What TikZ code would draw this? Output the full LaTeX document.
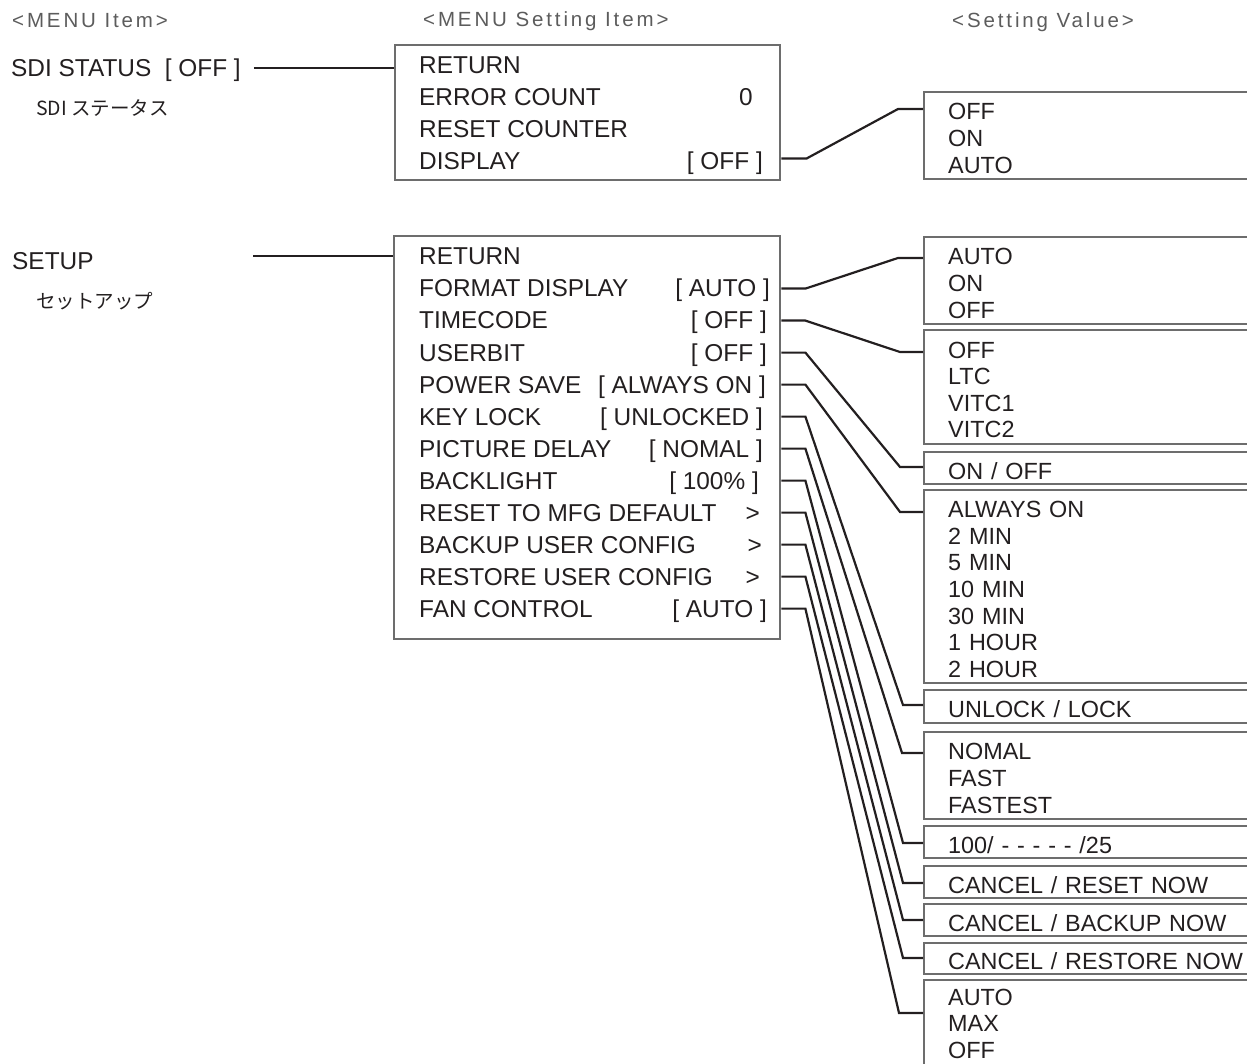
\documentclass[tikz,border=0pt]{standalone}
\usepackage{fontspec}
\setmainfont{Liberation Sans}
\newfontfamily\jpfont{Noto Sans CJK JP}
\usetikzlibrary{calc}

\definecolor{ink}{HTML}{231F20}
\definecolor{framegray}{HTML}{6D6D6D}
\definecolor{headgray}{HTML}{5C5C5C}
\newcommand{\lift}{\rule{0pt}{22pt}}

\begin{document}
\begin{tikzpicture}[x=1pt, y=-1pt,
  head/.style={anchor=base west, inner sep=0pt, text=headgray,
    font=\fontsize{20.5pt}{22pt}\selectfont\addfontfeature{LetterSpace=14}},
  item/.style={anchor=base west, inner sep=0pt, text=ink, font=\fontsize{24.4pt}{28pt}\selectfont},
  itemval/.style={item, anchor=base east},
  jp/.style={anchor=base west, inner sep=0pt, text=ink, font=\fontsize{19.5pt}{22pt}\selectfont\jpfont},
  menubox/.style={draw=framegray, line width=2.4pt, anchor=north west, inner sep=0pt},
  valbase/.style={draw=framegray, line width=2.4pt, anchor=north west, inner xsep=24pt, inner ysep=0pt,
    text width=380pt, align=left, text=ink, font=\fontsize{23.4pt}{26.6pt}\selectfont},
  valbox/.style={valbase, execute at begin node=\lift},
  wire/.style={line width=2.2pt, draw=ink}
]
\clip (0,0) rectangle (1247,1064);

% column headers
\node[head] (hItem) at (12,28) {<MENU Item>};
\node[head] (hSetting) at (423,27) {<MENU Setting Item>};
\node[head] (hValue) at (952,28) {<Setting Value>};

% menu items
\node[item] (mSdi) at (11,77) {SDI STATUS\ \ [ OFF ]};
\node[jp] (mSdiJp) at (36,116) {SDI ステータス};
\node[item] (mSetup) at (12,270) {SETUP};
\node[jp] (mSetupJp) at (36,309) {セットアップ};

% SDI status setting items
\node[menubox, minimum width=385pt, minimum height=135pt] (boxSdi) at (394,44) {};
\node[item] (sdiRet) at (419,74) {RETURN};
\node[item] (sdiErr) at (419,106) {ERROR COUNT};
\node[itemval] (sdiErrV) at (753,106) {0};
\node[item] (sdiRst) at (419,138) {RESET COUNTER};
\node[item] (sdiDisp) at (419,170) {DISPLAY};
\node[itemval] (sdiDispV) at (763,170) {[ OFF ]};

% setup setting items
\node[menubox, minimum width=386pt, minimum height=403pt] (boxSetup) at (393,235) {};
\node[item] (stRet) at (419,265) {RETURN};
\node[item] (stFmt) at (419,297) {FORMAT DISPLAY};
\node[itemval] at (770,297) {[ AUTO ]};
\node[item] (stTc) at (419,329) {TIMECODE};
\node[itemval] at (767,329) {[ OFF ]};
\node[item] (stUb) at (419,361) {USERBIT};
\node[itemval] at (767,361) {[ OFF ]};
\node[item] (stPs) at (419,393) {POWER SAVE};
\node[itemval] at (766,393) {[ ALWAYS ON ]};
\node[item] (stKl) at (419,425) {KEY LOCK};
\node[itemval] at (763,425) {[ UNLOCKED ]};
\node[item] (stPd) at (419,457) {PICTURE DELAY};
\node[itemval] at (763,457) {[ NOMAL ]};
\node[item] (stBl) at (419,489) {BACKLIGHT};
\node[itemval] at (759,489) {[ 100\% ]};
\node[item] (stRst) at (419,521) {RESET TO MFG DEFAULT};
\node[itemval] at (760,521) {>};
\node[item] (stBak) at (419,553) {BACKUP USER CONFIG};
\node[itemval] at (762,553) {>};
\node[item] (stRes) at (419,585) {RESTORE USER CONFIG};
\node[itemval] at (760,585) {>};
\node[item] (stFan) at (419,617) {FAN CONTROL};
\node[itemval] at (767,617) {[ AUTO ]};

% setting values
\node[valbox, minimum height=87pt] (vDisp) at (923,91) {OFF\\ON\\AUTO};
\node[valbox, minimum height=87pt] (vFmt) at (923,236) {AUTO\\ON\\OFF};
\node[valbox, minimum height=114pt] (vTc) at (923,329) {OFF\\LTC\\VITC1\\VITC2};
\node[valbox, minimum height=32pt] (vUb) at (923,451) {ON / OFF};
\node[valbox, minimum height=193pt] (vPs) at (923,489) {ALWAYS ON\\2 MIN\\5 MIN\\10 MIN\\30 MIN\\1 HOUR\\2 HOUR};
\node[valbox, minimum height=33pt] (vKl) at (923,689) {UNLOCK / LOCK};
\node[valbox, minimum height=87pt] (vPd) at (923,731) {NOMAL\\FAST\\FASTEST};
\node[valbox, minimum height=32pt] (vBl) at (923,825) {100/ - - - - - /25};
\node[valbox, minimum height=32pt] (vRst) at (923,865) {CANCEL / RESET NOW};
\node[valbox, minimum height=32pt] (vBak) at (923,903) {CANCEL / BACKUP NOW};
\node[valbox, minimum height=31pt] (vRes) at (923,942) {CANCEL / RESTORE NOW};
\node[valbase, minimum height=87pt] (vFan) at (923,979) {AUTO\\MAX\\OFF};

% wires
\coordinate (sdiTail) at ($(mSdi.base east)+(13,-9)$);
\draw[wire] (sdiTail) -- (boxSdi.west |- sdiTail);
\coordinate (setupTail) at (253,256);
\draw[wire] (setupTail) -- (boxSetup.west |- setupTail);
\draw[wire] ($(boxSdi.east |- sdiDisp.west)+(0,-3)$) -- ++(25,0) -- ($(vDisp.north west)+(-25,18)$) -- ($(vDisp.north west)+(0,18)$);
\foreach \row/\dst/\dy/\cx in {stFmt/vFmt/22/25, stTc/vTc/23/23, stUb/vUb/16/23, stPs/vPs/23/23,
    stKl/vKl/16/20, stPd/vPd/22/21, stBl/vBl/18/20, stRst/vRst/18/20, stBak/vBak/17/20,
    stRes/vRes/16/20, stFan/vFan/34/24}
  \draw[wire] (boxSetup.east |- \row.west) -- ++(24,0) -- ($(\dst.north west)+(-\cx,\dy)$) -- ($(\dst.north west)+(0,\dy)$);
\end{tikzpicture}
\end{document}
